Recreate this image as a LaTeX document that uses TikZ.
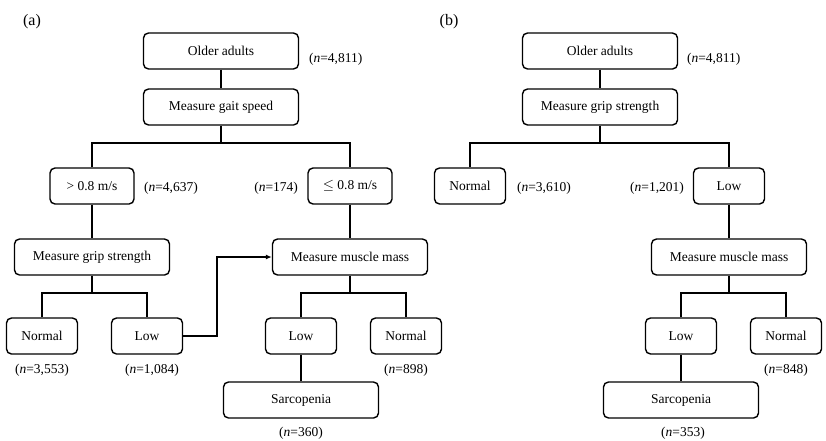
\documentclass[tikz,border=0pt]{standalone}
\usepackage{fontspec}
\setmainfont{Liberation Serif}
\usepackage{amssymb}
\usepackage{tikz}
\usetikzlibrary{arrows.meta}

\begin{document}
\begin{tikzpicture}[x=1pt, y=-1pt, line width=1.4pt,
    font=\fontsize{13.5}{16}\selectfont,
    box/.style={draw, rounded corners=5pt, minimum height=36pt, inner sep=2pt},
    bigbox/.style={box, minimum width=155pt},
    smallbox/.style={box, minimum width=71pt},
    midbox/.style={box, minimum width=84pt},
    tag/.style={font=\fontsize{16}{18}\selectfont},
    arr/.style={-{Latex[length=6pt,width=5pt]}}]
    \useasboundingbox (0,0) rectangle (826,440);

    % (a) gait speed first

    \node[tag] (tagA) at (32,22) {(a)};
    \node[bigbox] (oldA) at (221,51) {Older adults};
    \node[anchor=west] (nOldA) at (305,59) {(\textit{n}=4,811)};
    \node[bigbox] (gaitA) at (221,107) {Measure gait speed};
    \node[midbox] (fastA) at (92,186) {> 0.8 m/s};
    \node[anchor=west] (nFastA) at (140,188) {(\textit{n}=4,637)};
    \node[midbox] (slowA) at (350,186) {$\leq$ 0.8 m/s};
    \node[anchor=east] (nSlowA) at (302,188) {(\textit{n}=174)};
    \node[bigbox] (gripA) at (92,257) {Measure grip strength};
    \node[smallbox] (normA) at (42,336) {Normal};
    \node (nNormA) at (42,370) {(\textit{n}=3,553)};
    \node[smallbox] (lowA) at (147,336) {Low};
    \node (nLowA) at (152,370) {(\textit{n}=1,084)};
    \node[bigbox] (massA) at (350,257) {Measure muscle mass};
    \node[smallbox] (mlowA) at (301,336) {Low};
    \node[smallbox] (mnormA) at (406,336) {Normal};
    \node (nNormA2) at (406,370) {(\textit{n}=898)};
    \node[bigbox] (sarcA) at (301,400) {Sarcopenia};
    \node (nSarcA) at (301,433) {(\textit{n}=360)};

    \coordinate (splitA) at (221,143);
    \coordinate (splitA2) at (92,293);
    \coordinate (splitA3) at (350,293);
    \coordinate (bendA) at (217,257);
    \draw (oldA) -- (gaitA);
    \draw (gaitA) -- (splitA);
    \draw (fastA) |- (splitA) -| (slowA);
    \draw (fastA) -- (gripA);
    \draw (gripA) -- (splitA2);
    \draw (normA) |- (splitA2) -| (lowA);
    \draw (slowA) -- (massA);
    \draw (massA) -- (splitA3);
    \draw (mlowA) |- (splitA3) -| (mnormA);
    \draw (mlowA) -- (sarcA);
    \draw[arr] (lowA) -| (bendA) -- (massA);

    % (b) grip strength first

    \node[tag] (tagB) at (449,22) {(b)};
    \node[bigbox] (oldB) at (600,51) {Older adults};
    \node[anchor=west] (nOldB) at (683,59) {(\textit{n}=4,811)};
    \node[bigbox] (gripB) at (600,107) {Measure grip strength};
    \node[smallbox] (normB) at (470,186) {Normal};
    \node[anchor=west] (nNormB) at (513,188) {(\textit{n}=3,610)};
    \node[smallbox] (lowB) at (729,186) {Low};
    \node[anchor=east] (nLowB) at (688,188) {(\textit{n}=1,201)};
    \node[bigbox] (massB) at (729,257) {Measure muscle mass};
    \node[smallbox] (mlowB) at (681,336) {Low};
    \node[smallbox] (mnormB) at (786,336) {Normal};
    \node (nNormB2) at (786,370) {(\textit{n}=848)};
    \node[bigbox] (sarcB) at (681,400) {Sarcopenia};
    \node (nSarcB) at (683,433) {(\textit{n}=353)};

    \coordinate (splitB) at (600,143);
    \coordinate (splitB2) at (729,293);
    \draw (oldB) -- (gripB);
    \draw (gripB) -- (splitB);
    \draw (normB) |- (splitB) -| (lowB);
    \draw (lowB) -- (massB);
    \draw (massB) -- (splitB2);
    \draw (mlowB) |- (splitB2) -| (mnormB);
    \draw (mlowB) -- (sarcB);

\end{tikzpicture}
\end{document}
